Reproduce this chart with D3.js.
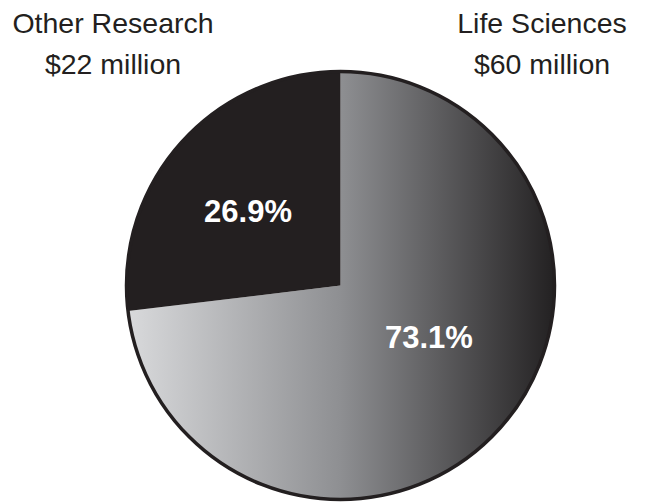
<!DOCTYPE html>
<html>
<head>
<meta charset="utf-8">
<script src="https://cdn.jsdelivr.net/npm/d3@7"></script>
<style>
  html, body { margin: 0; padding: 0; background: #ffffff; }
  svg { display: block; }
</style>
</head>
<body>
<div id="chart"></div>
<script>
// ---- Data ----
const categories = ["Life Sciences", "Other Research"];
const amounts = ["$60 million", "$22 million"];
const percents = [73.1, 26.9];
const percentLabels = ["73.1%", "26.9%"];

// ---- Layout ----
const W = 651, H = 502;
const cx = 340.5, cy = 285.5, R = 214;
const ink = "#231f20";

const svg = d3.select("#chart").append("svg")
  .attr("width", W).attr("height", H);

const defs = svg.append("defs");
const grad = defs.append("linearGradient")
  .attr("id", "lifeGrad")
  .attr("gradientUnits", "userSpaceOnUse")
  .attr("x1", -R).attr("y1", 0)
  .attr("x2", R).attr("y2", 0);
grad.append("stop").attr("offset", "0%").attr("stop-color", "#d9dadc");
grad.append("stop").attr("offset", "50%").attr("stop-color", "#8e8f92");
grad.append("stop").attr("offset", "100%").attr("stop-color", "#232122");

const fills = ["url(#lifeGrad)", ink];

const pie = d3.pie().sort(null).value(d => d);
const arcs = pie(percents);
const arc = d3.arc().innerRadius(0).outerRadius(R);

const g = svg.append("g").attr("transform", `translate(${cx},${cy})`);

g.selectAll("path.slice")
  .data(arcs)
  .join("path")
  .attr("class", "slice")
  .attr("d", arc)
  .attr("fill", (d, i) => fills[i]);

// outer outline
g.append("circle")
  .attr("r", R)
  .attr("fill", "none")
  .attr("stroke", ink)
  .attr("stroke-width", 3.5);

// percent labels (placement tweaks relative to slice mid-angle)
const labelPlace = [
  { dAngle: -11.4, frac: 0.478 },
  { dAngle: -2.6, frac: 0.556 }
];
const labelPos = (d, i) => {
  const a = (d.startAngle + d.endAngle) / 2 + labelPlace[i].dAngle * Math.PI / 180;
  const r = R * labelPlace[i].frac;
  return [Math.sin(a) * r, -Math.cos(a) * r];
};
g.selectAll("text.pct")
  .data(arcs)
  .join("text")
  .attr("class", "pct")
  .attr("x", (d, i) => labelPos(d, i)[0])
  .attr("y", (d, i) => labelPos(d, i)[1])
  .attr("dy", "0.36em")
  .attr("text-anchor", "middle")
  .attr("font-family", "'Liberation Sans', Arial, sans-serif")
  .attr("font-weight", "bold")
  .attr("font-size", 31)
  .attr("fill", "#ffffff")
  .text((d, i) => percentLabels[i]);

// category titles
const titleX = [542, 113];
const titles = svg.selectAll("g.title")
  .data(categories)
  .join("g")
  .attr("class", "title")
  .attr("transform", (d, i) => `translate(${titleX[i]},0)`);

titles.append("text")
  .attr("y", 33)
  .attr("text-anchor", "middle")
  .attr("font-family", "'Liberation Sans', Arial, sans-serif")
  .attr("font-size", 28.5)
  .attr("fill", ink)
  .text(d => d);

titles.append("text")
  .attr("y", 74)
  .attr("text-anchor", "middle")
  .attr("font-family", "'Liberation Sans', Arial, sans-serif")
  .attr("font-size", 28.5)
  .attr("fill", ink)
  .text((d, i) => amounts[i]);
</script>
</body>
</html>
